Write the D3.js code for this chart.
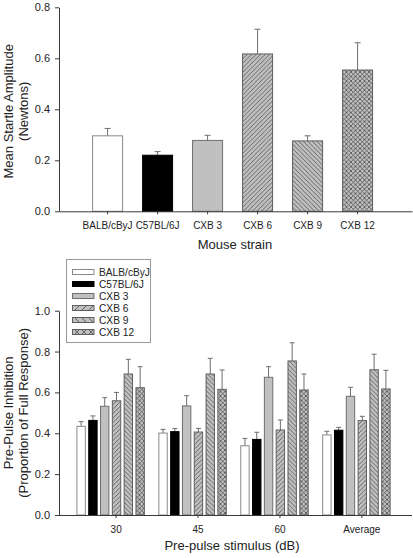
<!DOCTYPE html>
<html><head><meta charset="utf-8">
<script src="https://cdn.jsdelivr.net/npm/d3@7"></script>
<style>
body{margin:0;background:#fff;}
svg{display:block;font-family:"Liberation Sans",Arial,sans-serif;}
</style></head>
<body>
<svg id="chart" width="413" height="558"></svg>
<script>
// ---- data ----
const strains = ["BALB/cByJ","C57BL/6J","CXB 3","CXB 6","CXB 9","CXB 12"];
const startleMean = [0.296, 0.220, 0.278, 0.617, 0.276, 0.554];
const startleSEM  = [0.029, 0.014, 0.020, 0.097, 0.020, 0.107];
const startleTicks = [0, 0.2, 0.4, 0.6, 0.8];

const stimuli = ["30","45","60","Average"];
const ppiBALB  = [0.434, 0.401, 0.339, 0.392];
const ppiC57   = [0.463, 0.408, 0.370, 0.415];
const ppiCXB3  = [0.532, 0.534, 0.674, 0.581];
const ppiCXB6  = [0.559, 0.406, 0.416, 0.462];
const ppiCXB9  = [0.690, 0.690, 0.754, 0.711];
const ppiCXB12 = [0.623, 0.615, 0.612, 0.617];
const semBALB  = [0.023, 0.018, 0.036, 0.018];
const semC57   = [0.022, 0.015, 0.035, 0.014];
const semCXB3  = [0.042, 0.050, 0.052, 0.044];
const semCXB6  = [0.041, 0.018, 0.049, 0.021];
const semCXB9  = [0.072, 0.077, 0.089, 0.076];
const semCXB12 = [0.103, 0.095, 0.078, 0.091];
const ppiTicks = [0, 0.2, 0.4, 0.6, 0.8, 1.0];

const ppiSeries = [ppiBALB, ppiC57, ppiCXB3, ppiCXB6, ppiCXB9, ppiCXB12];
const semSeries = [semBALB, semC57, semCXB3, semCXB6, semCXB9, semCXB12];

// ---- styles ----
const svg = d3.select("#chart");
const GRAY = "#c0c0c0", HATCH = "#454545", AXIS = "#3a3a3a", ERR = "#6e6e6e";
const defs = svg.append("defs");
function makePatterns(prefix, s){
  const mk = (id, draw) => {
    const p = defs.append("pattern").attr("id", prefix+id)
      .attr("patternUnits","userSpaceOnUse").attr("width", s).attr("height", s);
    p.append("rect").attr("width", s).attr("height", s).attr("fill", GRAY);
    draw(p);
  };
  const line = (p, x1,y1,x2,y2) => p.append("line").attr("x1",x1).attr("y1",y1).attr("x2",x2).attr("y2",y2)
      .attr("stroke", HATCH).attr("stroke-width", 0.75);
  mk("fwd", p => { line(p,-1,s+1,s+1,-1); line(p,-1,1,1,-1); line(p,s-1,s+1,s+1,s-1); });
  mk("back", p => { line(p,-1,-1,s+1,s+1); line(p,s-1,-1,s+1,1); line(p,-1,s-1,1,s+1); });
  mk("cross", p => { line(p,-1,s+1,s+1,-1); line(p,-1,1,1,-1); line(p,s-1,s+1,s+1,s-1);
                      line(p,-1,-1,s+1,s+1); line(p,s-1,-1,s+1,1); line(p,-1,s-1,1,s+1); });
}
makePatterns("a", 4.5);
makePatterns("b", 4.5);
makePatterns("l", 7);
function fillFor(i, prefix){
  return ["#ffffff", "#000000", GRAY, `url(#${prefix}fwd)`, `url(#${prefix}back)`, `url(#${prefix}cross)`][i];
}
function strokeFor(i){ return ["#8a8a8a", "#000000", "#6e6e6e", "#5e5e5e", "#5e5e5e", "#5e5e5e"][i]; }

function styleAxis(g){
  g.selectAll("path,line").attr("stroke", AXIS);
  g.selectAll("text").attr("fill","#222");
}

// ---- top chart ----
const xA = d3.scaleBand().domain(strains).range([59, 412]).paddingInner(0.4).paddingOuter(0.73).align(0.46);
const yA = d3.scaleLinear().domain([0, 0.8]).range([211.3, 7.3]);
const gA = svg.append("g");

gA.selectAll("line.errA").data(strains).join("line")
  .attr("x1", d => xA(d) + xA.bandwidth()/2).attr("x2", d => xA(d) + xA.bandwidth()/2)
  .attr("y1", (d,i) => yA(startleMean[i])).attr("y2", (d,i) => yA(startleMean[i] + startleSEM[i]))
  .attr("stroke", ERR).attr("stroke-width", 1);
gA.selectAll("line.capA").data(strains).join("line")
  .attr("x1", d => xA(d) + xA.bandwidth()/2 - 3).attr("x2", d => xA(d) + xA.bandwidth()/2 + 3)
  .attr("y1", (d,i) => yA(startleMean[i] + startleSEM[i])).attr("y2", (d,i) => yA(startleMean[i] + startleSEM[i]))
  .attr("stroke", ERR).attr("stroke-width", 1);
gA.selectAll("rect.barA").data(strains).join("rect")
  .attr("x", d => xA(d)).attr("width", xA.bandwidth())
  .attr("y", (d,i) => yA(startleMean[i])).attr("height", (d,i) => yA(0) - yA(startleMean[i]))
  .attr("fill", (d,i) => fillFor(i, "a")).attr("stroke", (d,i) => strokeFor(i)).attr("stroke-width", 1);

const axAx = gA.append("g").attr("transform", `translate(0,${yA(0)})`)
  .call(d3.axisBottom(xA).tickSizeInner(3).tickSizeOuter(0).tickPadding(8))
  .call(g => g.selectAll("text").attr("font-size", 10));
styleAxis(axAx);
const axAy = gA.append("g").attr("transform", "translate(59,0)")
  .call(d3.axisLeft(yA).tickValues(startleTicks).tickFormat(d3.format(".1f")).tickSizeInner(4).tickSizeOuter(0).tickPadding(5))
  .call(g => g.selectAll("text").attr("font-size", 11));
styleAxis(axAy);

gA.append("text").attr("x", 235).attr("y", 249).attr("text-anchor","middle").attr("font-size", 13).attr("fill","#222").text("Mouse strain");
const tA = gA.append("text").attr("transform", `translate(13,${(yA(0)+yA(0.8))/2 + 2}) rotate(-90)`)
  .attr("text-anchor","middle").attr("font-size", 13).attr("fill","#222");
tA.append("tspan").attr("x",0).attr("dy",0).text("Mean Startle Amplitude");
tA.append("tspan").attr("x",0).attr("dy",15).text("(Newtons)");

// ---- bottom chart ----
const xB = d3.scaleBand().domain(stimuli).range([59, 412]).paddingInner(0.177).paddingOuter(0.243).align(0.45);
const xBin = d3.scaleBand().domain(strains).range([0, xB.bandwidth()]).paddingInner(0.29).paddingOuter(0);
const xBtick = xB.copy().range([59 + 5.5, 412 + 5.5]);
const yB = d3.scaleLinear().domain([0, 1.0]).range([515, 310.7]);
const gB = svg.append("g");

const cells = [];
strains.forEach((s, i) => stimuli.forEach((st, j) => cells.push({s, i, st, v: ppiSeries[i][j], e: semSeries[i][j]})));
const cx = d => xB(d.st) + xBin(d.s) + xBin.bandwidth()/2;

gB.selectAll("line.errB").data(cells).join("line")
  .attr("x1", cx).attr("x2", cx)
  .attr("y1", d => yB(d.v)).attr("y2", d => yB(d.v + d.e))
  .attr("stroke", ERR).attr("stroke-width", 1);
gB.selectAll("line.capB").data(cells).join("line")
  .attr("x1", d => cx(d) - 2.5).attr("x2", d => cx(d) + 2.5)
  .attr("y1", d => yB(d.v + d.e)).attr("y2", d => yB(d.v + d.e))
  .attr("stroke", ERR).attr("stroke-width", 1);
gB.selectAll("rect.barB").data(cells).join("rect")
  .attr("x", d => xB(d.st) + xBin(d.s)).attr("width", xBin.bandwidth())
  .attr("y", d => yB(d.v)).attr("height", d => yB(0) - yB(d.v))
  .attr("fill", d => fillFor(d.i, "b")).attr("stroke", d => strokeFor(d.i)).attr("stroke-width", 1);

const axBx = gB.append("g").attr("transform", `translate(0,${yB(0)})`)
  .call(d3.axisBottom(xBtick).tickSizeInner(3).tickSizeOuter(0).tickPadding(8))
  .call(g => g.select(".domain").remove())
  .call(g => g.selectAll("text").attr("font-size", 10));
axBx.append("line").attr("x1", 59).attr("x2", 412).attr("y1", 0.5).attr("y2", 0.5);
styleAxis(axBx);
const axBy = gB.append("g").attr("transform", "translate(59,0)")
  .call(d3.axisLeft(yB).tickValues(ppiTicks).tickFormat(d3.format(".1f")).tickSizeInner(4).tickSizeOuter(0).tickPadding(5))
  .call(g => g.selectAll("text").attr("font-size", 11));
styleAxis(axBy);

gB.append("text").attr("x", 232).attr("y", 550).attr("text-anchor","middle").attr("font-size", 13).attr("fill","#222").text("Pre-pulse stimulus (dB)");
const tB = gB.append("text").attr("transform", `translate(13,${(yB(0)+yB(1))/2}) rotate(-90)`)
  .attr("text-anchor","middle").attr("font-size", 13).attr("fill","#222");
tB.append("tspan").attr("x",0).attr("dy",0).text("Pre-Pulse Inhibition");
tB.append("tspan").attr("x",0).attr("dy",15).text("(Proportion of Full Response)");

// legend
const lg = gB.append("g");
lg.append("rect").attr("x", 66.5).attr("y", 259.5).attr("width", 84).attr("height", 83)
  .attr("fill","#fff").attr("stroke","#9a9a9a").attr("stroke-width",1);
const rows = lg.selectAll("g.row").data(strains).join("g").attr("transform", (d,i) => `translate(0,${272 + i*12})`);
rows.append("rect").attr("x", 72.5).attr("y", -2.5).attr("width", 21.5).attr("height", 5)
  .attr("fill", (d,i) => fillFor(i, "l")).attr("stroke", (d,i) => strokeFor(i)).attr("stroke-width", 1);
rows.append("text").attr("x", 99).attr("y", 0).attr("dy","0.35em").attr("font-size", 10.2).attr("fill","#222").text(d => d);
</script>
</body></html>
